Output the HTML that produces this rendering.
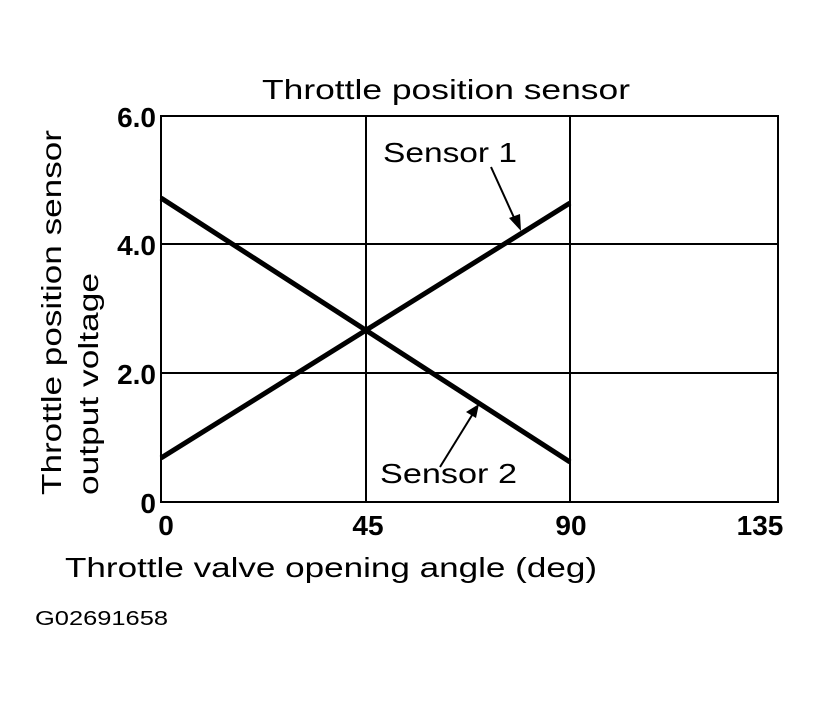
<!DOCTYPE html><html><head><style>body{margin:0;background:#fff}</style></head><body>
<svg width="822" height="702" xmlns="http://www.w3.org/2000/svg" font-family="Liberation Sans, Arial, sans-serif">
<rect width="822" height="702" fill="#fff"/>
<g stroke="#000" stroke-width="2" fill="none">
<rect x="161" y="116" width="617" height="386"/>
<line x1="366" y1="116" x2="366" y2="502"/>
<line x1="570" y1="116" x2="570" y2="502"/>
<line x1="161" y1="244" x2="778" y2="244"/>
<line x1="161" y1="373" x2="778" y2="373"/>
</g>
<g stroke="#000" stroke-width="5" stroke-linecap="butt">
<line x1="161" y1="458" x2="570" y2="203"/>
<line x1="161" y1="198" x2="570" y2="462"/>
</g>
<g stroke="#000" stroke-width="2">
<line x1="491" y1="167" x2="516" y2="222"/>
<line x1="440" y1="467" x2="474" y2="412"/>
</g>
<polygon points="521,231 509,218 520,214" fill="#000"/>
<polygon points="479,404 466,412 476,418" fill="#000"/>
<text x="262" y="99" font-size="28" textLength="368" lengthAdjust="spacingAndGlyphs">Throttle position sensor</text>
<text x="383" y="162" font-size="28" textLength="134" lengthAdjust="spacingAndGlyphs">Sensor 1</text>
<text x="380" y="483" font-size="28" textLength="137" lengthAdjust="spacingAndGlyphs">Sensor 2</text>
<g font-size="28" font-weight="bold" text-anchor="end">
<text x="156" y="127">6.0</text>
<text x="156" y="255">4.0</text>
<text x="156" y="384">2.0</text>
<text x="156" y="513">0</text>
</g>
<g font-size="28" font-weight="bold" text-anchor="middle">
<text x="166" y="535">0</text>
<text x="368" y="535">45</text>
<text x="571" y="535">90</text>
<text x="760" y="535">135</text>
</g>
<text x="65" y="577" font-size="28" textLength="532" lengthAdjust="spacingAndGlyphs">Throttle valve opening angle (deg)</text>
<text x="35" y="625" font-size="20" textLength="133" lengthAdjust="spacingAndGlyphs">G02691658</text>
<g font-size="28">
<text transform="translate(61,495) rotate(-90)" textLength="365" lengthAdjust="spacingAndGlyphs">Throttle position sensor</text>
<text transform="translate(98,495) rotate(-90)" textLength="222" lengthAdjust="spacingAndGlyphs">output voltage</text>
</g>
</svg>
</body></html>
